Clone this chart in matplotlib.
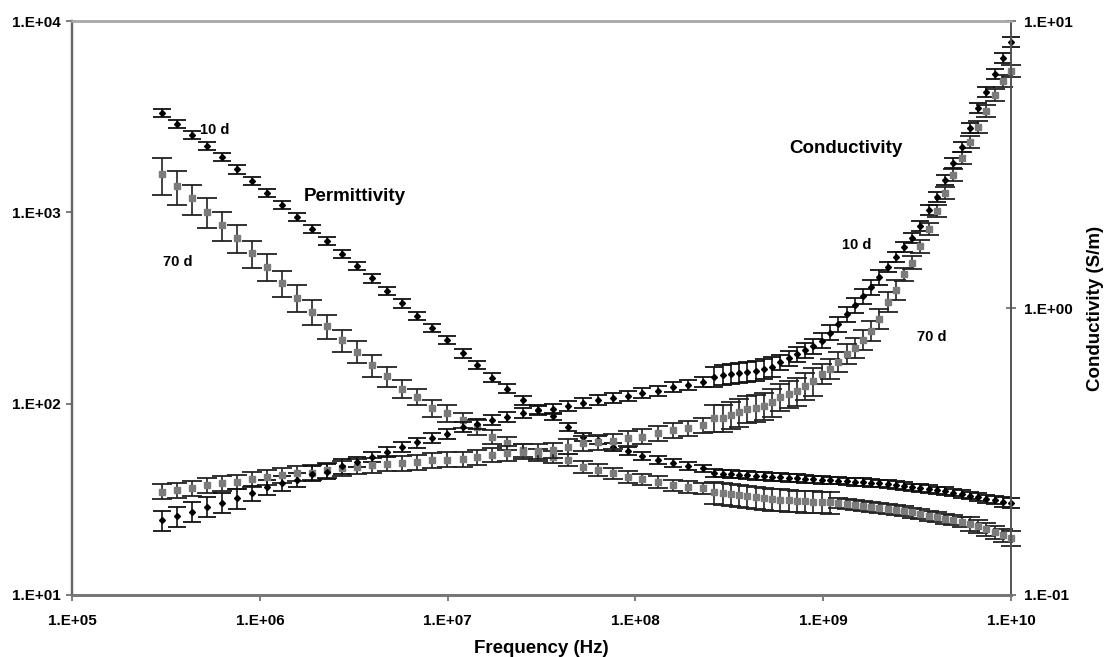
""" Permittivity and conductivity spectra (10 d and 70 d) with error bars """
import numpy as np
import matplotlib
matplotlib.use("Agg")
import matplotlib.pyplot as plt
from matplotlib.ticker import LogLocator, FuncFormatter, NullFormatter, NullLocator

plt.rcParams['font.family'] = ['Liberation Sans', 'DejaVu Sans']
plt.rcParams['font.weight'] = 'bold'

# frequency sweeps (Hz)
freqLow = [3.01e5, 3.62e5, 4.36e5, 5.24e5, 6.30e5, 7.57e5, 9.10e5, 1.09e6, 1.32e6, 1.58e6,
           1.90e6, 2.29e6, 2.75e6, 3.30e6, 3.97e6, 4.78e6, 5.74e6, 6.90e6, 8.30e6, 9.98e6,
           1.20e7, 1.44e7, 1.73e7, 2.08e7, 2.51e7, 3.01e7, 3.62e7, 4.36e7, 5.24e7, 6.30e7,
           7.57e7, 9.10e7, 1.09e8, 1.32e8, 1.58e8, 1.90e8, 2.29e8]
freqHigh = [2.63e8, 2.91e8, 3.22e8, 3.56e8, 3.94e8, 4.36e8, 4.82e8, 5.34e8, 5.91e8, 6.53e8,
            7.23e8, 8.00e8, 8.85e8, 9.79e8, 1.08e9, 1.20e9, 1.33e9, 1.47e9, 1.62e9, 1.80e9,
            1.99e9, 2.20e9, 2.43e9, 2.69e9, 2.98e9, 3.29e9, 3.64e9, 4.03e9, 4.46e9, 4.93e9,
            5.46e9, 6.04e9, 6.68e9, 7.39e9, 8.18e9, 9.04e9, 1.00e10]

# permittivity (left axis)
perm10Low = [3318, 2897, 2537, 2229, 1953, 1679, 1458, 1266, 1091, 948,
             821, 711, 606, 526, 452, 389, 334, 287, 249, 215,
             183, 160, 137, 120, 104, 92.5, 86.0, 75.6, 67.1, 64.5,
             59.5, 56.7, 53.2, 50.7, 49.1, 47.2, 45.9]
perm10High = [43.4, 43.1, 42.9, 42.6, 42.3, 42.0, 41.8, 41.5, 41.3, 41.0,
              40.8, 40.5, 40.3, 40.0, 39.8, 39.6, 39.3, 39.1, 38.9, 38.6,
              38.4, 38.0, 37.5, 37.1, 36.6, 36.2, 35.8, 35.3, 34.9, 34.3,
              33.7, 33.1, 32.5, 31.9, 31.3, 30.8, 30.2]
perm70Low = [1585, 1373, 1184, 1007, 858, 736, 610, 520, 428, 358,
             302, 254, 215, 187, 159, 139, 120, 109, 94.5, 89.0,
             82.1, 75.7, 67.1, 62.0, 57.2, 53.9, 52.8, 50.7, 46.8, 45.0,
             43.2, 41.5, 40.3, 39.0, 37.5, 36.8, 36.1]
perm70High = [34.5, 34.1, 33.7, 33.3, 32.9, 32.5, 32.1, 31.7, 31.5, 31.3,
              31.1, 31.0, 30.8, 30.7, 30.6, 30.2, 29.9, 29.5, 29.2, 28.8,
              28.5, 28.1, 27.8, 27.5, 27.0, 26.5, 26.0, 25.5, 25.1, 24.6,
              24.2, 23.6, 22.9, 22.1, 21.3, 20.6, 19.8]

# conductivity (right axis, S/m)
cond10Low = [0.182, 0.188, 0.195, 0.203, 0.210, 0.217, 0.226, 0.237, 0.245, 0.252,
             0.265, 0.269, 0.281, 0.291, 0.303, 0.315, 0.329, 0.340, 0.352, 0.364,
             0.384, 0.394, 0.407, 0.416, 0.430, 0.441, 0.444, 0.456, 0.468, 0.478,
             0.485, 0.494, 0.505, 0.515, 0.530, 0.539, 0.554]
cond10High = [0.575, 0.584, 0.589, 0.594, 0.598, 0.603, 0.613, 0.623, 0.648, 0.670,
              0.692, 0.714, 0.737, 0.770, 0.820, 0.880, 0.950, 1.024, 1.10, 1.18,
              1.28, 1.39, 1.51, 1.63, 1.75, 1.93, 2.19, 2.44, 2.79, 3.20,
              3.64, 4.24, 4.98, 5.66, 6.53, 7.43, 8.45]
cond70Low = [0.229, 0.232, 0.235, 0.242, 0.245, 0.248, 0.254, 0.258, 0.261, 0.266,
             0.267, 0.273, 0.276, 0.280, 0.284, 0.287, 0.288, 0.291, 0.295, 0.296,
             0.298, 0.303, 0.308, 0.312, 0.316, 0.317, 0.320, 0.329, 0.338, 0.341,
             0.343, 0.352, 0.356, 0.366, 0.376, 0.381, 0.391]
cond70High = [0.414, 0.414, 0.424, 0.434, 0.445, 0.450, 0.457, 0.470, 0.490, 0.502,
              0.512, 0.535, 0.556, 0.589, 0.613, 0.648, 0.691, 0.725, 0.774, 0.832,
              0.916, 1.05, 1.16, 1.31, 1.44, 1.64, 1.89, 2.18, 2.52, 2.91,
              3.33, 3.79, 4.27, 4.86, 5.52, 6.18, 6.70]

# relative error (half width of the bar / value)
perm10LowErr = [0.05, 0.05, 0.05, 0.05, 0.05, 0.05, 0.05, 0.05, 0.05, 0.05,
                0.05, 0.05, 0.05, 0.05, 0.05, 0.05, 0.05, 0.05, 0.05, 0.05,
                0.05, 0.05, 0.05, 0.05, 0.05, 0.045, 0.045, 0.045, 0.045, 0.045,
                0.045, 0.045, 0.045, 0.045, 0.045, 0.045, 0.045]
perm10HighErr = [0.045, 0.045, 0.045, 0.045, 0.045, 0.045, 0.045, 0.045, 0.045, 0.045,
                 0.045, 0.045, 0.045, 0.045, 0.045, 0.045, 0.045, 0.045, 0.045, 0.045,
                 0.045, 0.045, 0.045, 0.045, 0.045, 0.045, 0.045, 0.045, 0.045, 0.045,
                 0.045, 0.045, 0.05, 0.05, 0.05, 0.06, 0.06]
perm70LowErr = [0.22, 0.20, 0.18, 0.18, 0.17, 0.17, 0.16, 0.16, 0.16, 0.16,
                0.15, 0.14, 0.13, 0.13, 0.13, 0.12, 0.11, 0.10, 0.10, 0.10,
                0.09, 0.09, 0.08, 0.08, 0.08, 0.07, 0.07, 0.07, 0.07, 0.07,
                0.07, 0.07, 0.07, 0.07, 0.07, 0.07, 0.07]
perm70HighErr = [0.13, 0.13, 0.13, 0.13, 0.13, 0.13, 0.13, 0.13, 0.13, 0.13,
                 0.13, 0.13, 0.13, 0.13, 0.13, 0.06, 0.06, 0.06, 0.06, 0.06,
                 0.06, 0.06, 0.06, 0.06, 0.06, 0.06, 0.06, 0.06, 0.06, 0.06,
                 0.06, 0.08, 0.08, 0.08, 0.08, 0.08, 0.09]
cond10LowErr = [0.08, 0.08, 0.08, 0.08, 0.08, 0.08, 0.06, 0.06, 0.06, 0.06,
                0.06, 0.06, 0.06, 0.04, 0.04, 0.04, 0.04, 0.04, 0.04, 0.04,
                0.04, 0.04, 0.04, 0.04, 0.04, 0.04, 0.04, 0.04, 0.04, 0.04,
                0.04, 0.04, 0.04, 0.04, 0.04, 0.04, 0.04]
cond10HighErr = [0.08, 0.08, 0.08, 0.08, 0.08, 0.08, 0.08, 0.08, 0.06, 0.06,
                 0.06, 0.06, 0.06, 0.06, 0.06, 0.06, 0.06, 0.06, 0.06, 0.06,
                 0.06, 0.04, 0.04, 0.04, 0.04, 0.04, 0.04, 0.04, 0.04, 0.04,
                 0.04, 0.04, 0.04, 0.04, 0.04, 0.04, 0.04]
cond70LowErr = [0.06, 0.06, 0.06, 0.06, 0.06, 0.06, 0.06, 0.06, 0.06, 0.06,
                0.06, 0.06, 0.06, 0.06, 0.06, 0.06, 0.06, 0.06, 0.06, 0.06,
                0.06, 0.06, 0.06, 0.06, 0.06, 0.06, 0.06, 0.06, 0.06, 0.06,
                0.06, 0.06, 0.06, 0.06, 0.06, 0.06, 0.06]
cond70HighErr = [0.11, 0.11, 0.11, 0.11, 0.11, 0.11, 0.11, 0.11, 0.11, 0.11,
                 0.11, 0.11, 0.11, 0.08, 0.08, 0.08, 0.08, 0.08, 0.08, 0.08,
                 0.08, 0.08, 0.08, 0.05, 0.05, 0.05, 0.05, 0.05, 0.05, 0.05,
                 0.05, 0.05, 0.05, 0.05, 0.05, 0.05, 0.05]

style10 = dict(fmt='D', ms=3, color='black', ecolor='#111111',
               elinewidth=1.2, capsize=6.5, capthick=1.3)
style70 = dict(fmt='s', ms=4.5, color='#7b7b7b', mec='#7b7b7b', ecolor='#222222',
               elinewidth=1.2, capsize=7, capthick=1.3)


def excel_label(value, pos):
	""" tick labels written like 1.E+04 """
	exponent = int(round(np.log10(value)))
	return "1.E{:+03d}".format(exponent)


def plot_series(axes, freqs, values, relErr, style):
	""" one sweep of one series with symmetric error bars """
	vals = np.array(values)
	err = vals * np.array(relErr)
	container = axes.errorbar(freqs, vals, yerr=err, linestyle='none', **style)
	container.lines[0].set_clip_on(False)
	for artist in list(container.lines[1]) + list(container.lines[2]):
		artist.set_clip_on(False)


fig = plt.figure(figsize=(11.05, 6.57), dpi=100)
ax = fig.add_axes([0.0652, 0.0944, 0.8498, 0.8736])
ax2 = ax.twinx()

plot_series(ax, freqLow, perm70Low, perm70LowErr, style70)
plot_series(ax, freqHigh, perm70High, perm70HighErr, style70)
plot_series(ax, freqLow, perm10Low, perm10LowErr, style10)
plot_series(ax, freqHigh, perm10High, perm10HighErr, style10)
plot_series(ax2, freqLow, cond70Low, cond70LowErr, style70)
plot_series(ax2, freqHigh, cond70High, cond70HighErr, style70)
plot_series(ax2, freqLow, cond10Low, cond10LowErr, style10)
plot_series(ax2, freqHigh, cond10High, cond10HighErr, style10)

ax.set_xscale('log')
ax.set_yscale('log')
ax2.set_yscale('log')
ax.set_xlim(1e5, 1e10)
ax.set_ylim(1e1, 1e4)
ax2.set_ylim(1e-1, 1e1)

fmt = FuncFormatter(excel_label)
ax.xaxis.set_major_locator(LogLocator(base=10, numticks=10))
ax.xaxis.set_minor_locator(NullLocator())
ax.yaxis.set_minor_locator(NullLocator())
ax2.yaxis.set_minor_locator(NullLocator())
ax.xaxis.set_major_formatter(fmt)
ax.yaxis.set_major_formatter(fmt)
ax2.yaxis.set_major_formatter(fmt)
ax2.yaxis.set_minor_formatter(NullFormatter())

ax.tick_params(axis='x', direction='out', length=4, width=1.2, color='#666666',
               labelsize=11, pad=10)
ax.tick_params(axis='y', direction='out', length=4, width=1.2, color='#666666',
               labelsize=11, pad=4)
ax2.tick_params(axis='y', which='major', direction='inout', length=7, width=1.2,
                color='#666666', labelsize=11, pad=6)

for axes in (ax, ax2):
	axes.spines['top'].set_color('#aaaaaa')
	axes.spines['top'].set_linewidth(1.8)
	axes.spines['left'].set_color('#666666')
	axes.spines['left'].set_linewidth(1.6)
	axes.spines['right'].set_color('#555555')
	axes.spines['right'].set_linewidth(1.3)
	axes.spines['bottom'].set_color('#777777')
	axes.spines['bottom'].set_linewidth(2.0)

ax.set_xlabel('Frequency (Hz)', fontsize=13.5, fontweight='bold', labelpad=8)
ax2.set_ylabel('Conductivity (S/m)', fontsize=13.5, fontweight='bold', labelpad=10)

# annotations
ax.text(0.1523, 0.810, '10 d', transform=ax.transAxes, fontsize=10.5, ha='center', va='center')
ax.text(0.1129, 0.580, '70 d', transform=ax.transAxes, fontsize=10.5, ha='center', va='center')
ax.text(0.3014, 0.6934, 'Permittivity', transform=ax.transAxes, fontsize=13.5, ha='center', va='center')
ax.text(0.8243, 0.7787, 'Conductivity', transform=ax.transAxes, fontsize=13.5, ha='center', va='center')
ax.text(0.8360, 0.6098, '10 d', transform=ax.transAxes, fontsize=10.5, ha='center', va='center')
ax.text(0.9159, 0.4495, '70 d', transform=ax.transAxes, fontsize=10.5, ha='center', va='center')

plt.savefig('out.png', dpi=100)
